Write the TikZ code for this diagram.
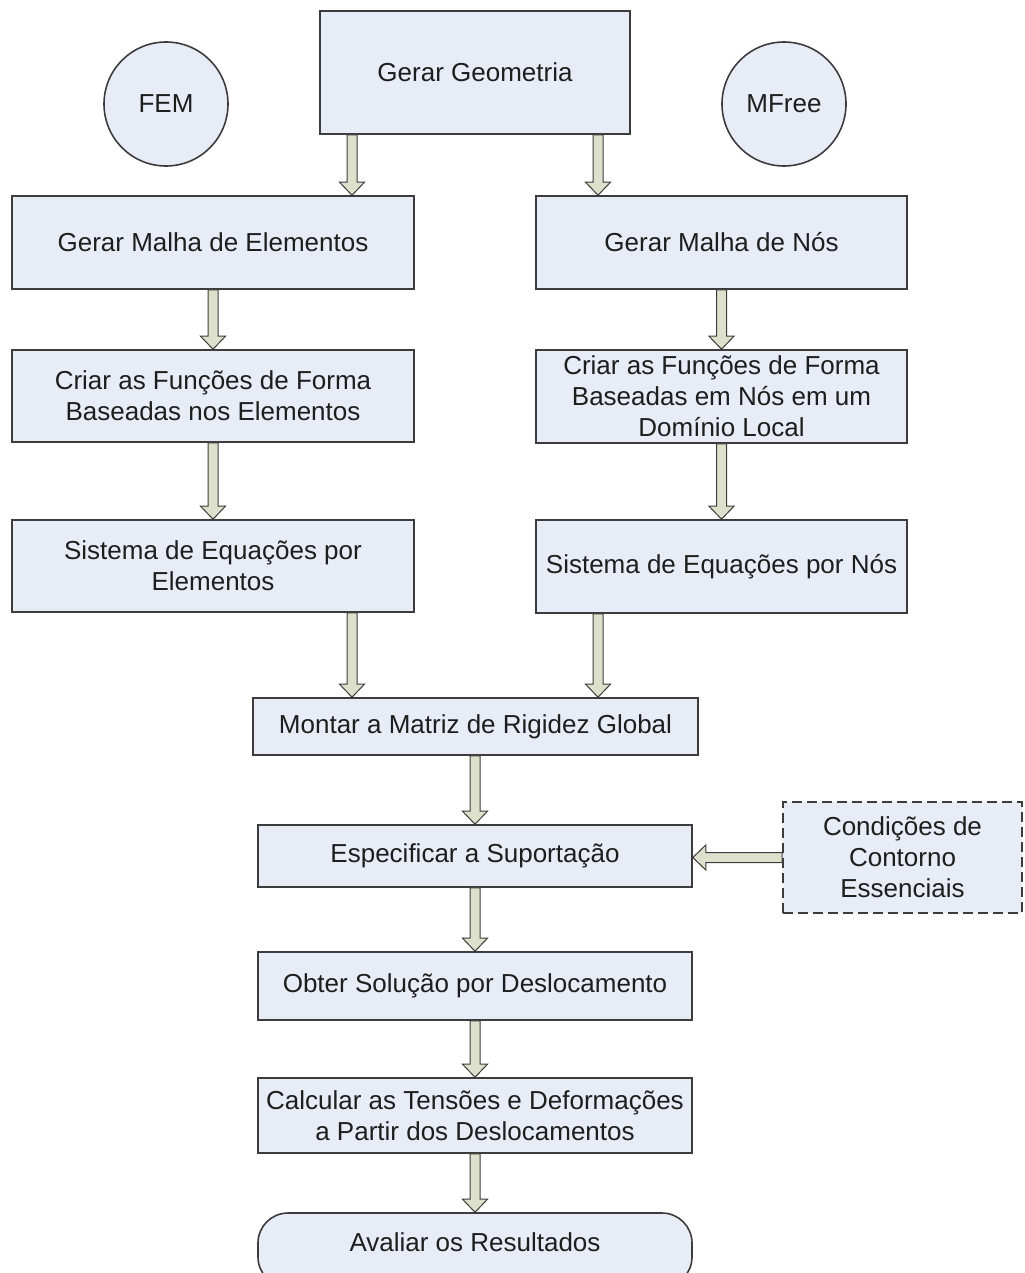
\documentclass[tikz,border=0pt]{standalone}
\usepackage{fontspec}
\setmainfont{Liberation Sans}
\usetikzlibrary{calc}

\definecolor{boxfill}{RGB}{232,236,247}
\definecolor{boxline}{RGB}{60,60,60}
\definecolor{arrowfill}{RGB}{221,224,203}
\definecolor{txt}{RGB}{30,30,30}

\tikzset{
  base/.style={draw=boxline, fill=boxfill, line width=0.8pt, align=center,
    inner sep=0pt, text=txt, font=\fontsize{13}{15.5}\selectfont},
  proc/.style={base, rectangle, minimum width=#1},
  stage/.style={base, circle, minimum size=62pt},
  bcond/.style={base, rectangle, dash pattern=on 5pt off 2.5pt},
  arrowbody/.style={draw=boxline, fill=arrowfill, line width=0.5pt, line join=miter},
}

% hollow block arrow from #1 to #2
\newcommand{\blockarrow}[2]{%
  \coordinate (hd) at ($(#2)!6.5pt!(#1)$);
  \draw[arrowbody] ($(#1)!2.5pt!90:(#2)$) -- ($(hd)!2.5pt!-90:(#1)$)
    -- ($(hd)!6.25pt!-90:(#1)$) -- (#2) -- ($(hd)!6.25pt!90:(#1)$)
    -- ($(hd)!2.5pt!90:(#1)$) -- ($(#1)!2.5pt!-90:(#2)$) -- cycle;
}

\begin{document}
\begin{tikzpicture}[x=0.5pt, y=-0.5pt]
  \useasboundingbox (0,0) rectangle (1024,1273);
  \clip (0,0) rectangle (1024,1273);

  % --- column positions (px)
  \def\xL{213}    % FEM column
  \def\xR{721.5}  % MFree column
  \def\xC{475}    % main column

  %---------------------------------------
  % top: geometry and the two methods
  \node[proc=155pt, minimum height=61.5pt] (geo) at (\xC,72.5) {Gerar Geometria};
  \node[stage] (fem) at (166,104) {FEM};
  \node[stage] (mfree) at (784,104) {MFree};

  %---------------------------------------
  % FEM column
  \node[proc=201pt, minimum height=46.5pt] (malhaE) at (\xL,242.5) {Gerar Malha de Elementos};
  \node[proc=201pt, minimum height=46pt] (formaE) at (\xL,396) {Criar as Funções de Forma\\Baseadas nos Elementos};
  \node[proc=201pt, minimum height=46pt] (sisE) at (\xL,566) {Sistema de Equações por\\Elementos};

  % MFree column
  \node[proc=185.5pt, minimum height=46.5pt] (malhaN) at (\xR,242.5) {Gerar Malha de Nós};
  \node[proc=185.5pt, minimum height=46.5pt] (formaN) at (\xR,396.5) {Criar as Funções de Forma\\Baseadas em Nós em um\\Domínio Local};
  \node[proc=185.5pt, minimum height=46.5pt] (sisN) at (\xR,566.5) {Sistema de Equações por Nós};

  %---------------------------------------
  % common steps
  \node[proc=222.5pt, minimum height=28.5pt] (montar) at (475.5,726.5) {Montar a Matriz de Rigidez Global};
  \node[proc=217pt, minimum height=31pt] (espec) at (\xC,856) {Especificar a Suportação};
  \node[bcond, minimum width=119.5pt, minimum height=55.5pt] (cond) at (902.5,857.5) {Condições de\\Contorno\\Essenciais};
  \node[proc=217pt, minimum height=34pt] (obter) at (\xC,986) {Obter Solução por Deslocamento};
  \node[proc=217pt, minimum height=37.5pt] (calc) at (\xC,1115.5) {Calcular as Tensões e Deformações\\a Partir dos Deslocamentos};
  \node[proc=217pt, rounded corners=15pt, minimum height=37pt,
    text height=9.5pt, text depth=8.5pt] (aval) at (\xC,1250) {Avaliar os Resultados};

  %---------------------------------------
  % connectors
  \coordinate (xl) at (352,0);
  \coordinate (xr) at (598,0);
  \blockarrow{geo.south -| xl}{malhaE.north -| xl}
  \blockarrow{geo.south -| xr}{malhaN.north -| xr}
  \blockarrow{malhaE.south}{formaE.north}
  \blockarrow{formaE.south}{sisE.north}
  \blockarrow{malhaN.south -| formaN.north}{formaN.north}
  \blockarrow{formaN.south}{sisN.north}
  \blockarrow{sisE.south -| xl}{montar.north -| xl}
  \blockarrow{sisN.south -| xr}{montar.north -| xr}
  \blockarrow{montar.south -| espec.north}{espec.north}
  \blockarrow{cond.west}{espec.east |- cond.west}
  \blockarrow{espec.south}{obter.north}
  \blockarrow{obter.south}{calc.north}
  \blockarrow{calc.south}{aval.north}
\end{tikzpicture}
\end{document}
